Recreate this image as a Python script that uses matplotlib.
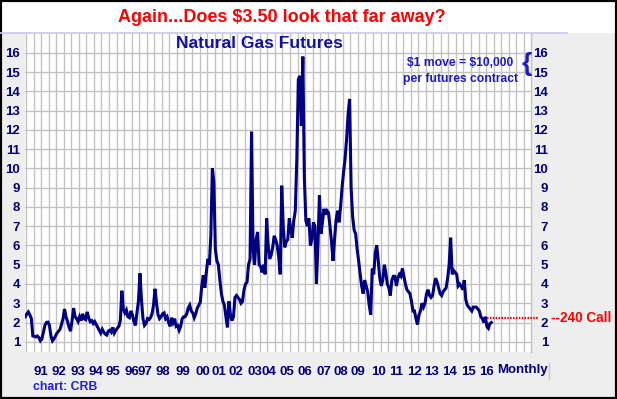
import numpy as np
import matplotlib
matplotlib.use('Agg')
import matplotlib.pyplot as plt
from matplotlib.patches import Rectangle
from matplotlib.lines import Line2D

# ---------------- data (monthly, Aug 1990 - May 2016) ----------------
start_year = 1990
start_month = 8  # August
p1990 = [2.30, 2.45, 2.55, 2.40, 2.20]
p1991 = [1.30, 1.28, 1.25, 1.30, 1.22, 1.05, 1.15, 1.50, 1.85, 2.00, 2.02, 1.85]
p1992 = [1.30, 1.05, 1.15, 1.30, 1.45, 1.55, 1.65, 1.90, 2.20, 2.70, 2.30, 2.05]
p1993 = [1.75, 1.55, 2.10, 2.75, 2.30, 2.20, 2.05, 2.30, 2.10, 2.45, 2.20, 2.15]
p1994 = [2.55, 2.25, 2.05, 2.10, 1.95, 2.05, 1.90, 1.75, 1.60, 1.45, 1.65, 1.50]
p1995 = [1.40, 1.35, 1.55, 1.60, 1.50, 1.75, 1.45, 1.60, 1.70, 1.80, 2.10, 3.65]
p1996 = [2.70, 2.50, 2.65, 2.30, 2.25, 2.60, 2.40, 2.05, 1.85, 2.50, 3.10, 4.55]
p1997 = [3.20, 2.20, 1.85, 1.95, 2.20, 2.15, 2.25, 2.45, 2.90, 3.75, 3.00, 2.40]
p1998 = [2.20, 2.30, 2.45, 2.50, 2.20, 2.30, 2.00, 1.80, 2.25, 2.00, 2.20, 1.80]
p1999 = [1.85, 1.60, 1.80, 2.20, 2.30, 2.30, 2.45, 2.75, 2.90, 2.60, 2.50, 2.25]
p2000 = [2.45, 2.75, 2.90, 3.05, 3.90, 4.45, 3.80, 4.60, 5.30, 5.00, 6.50, 10.00]
p2001 = [9.30, 5.80, 5.20, 5.00, 4.20, 3.50, 3.10, 2.90, 2.30, 1.75, 3.10, 2.40]
p2002 = [2.10, 2.30, 3.30, 3.40, 3.30, 3.20, 3.00, 3.10, 3.70, 4.00, 4.10, 5.00]
p2003 = [5.30, 11.90, 5.80, 5.00, 6.30, 6.70, 5.00, 4.90, 4.60, 5.00, 4.50, 7.40]
p2004 = [6.00, 5.30, 5.50, 5.90, 6.50, 6.30, 6.00, 5.40, 4.50, 9.10, 7.00, 5.90]
p2005 = [6.20, 6.30, 7.40, 6.80, 6.40, 7.30, 7.80, 10.50, 14.60, 14.80, 12.20, 15.80]
p2006 = [9.50, 7.30, 7.00, 7.40, 6.00, 6.30, 7.20, 7.00, 4.00, 6.00, 8.60, 6.60]
p2007 = [7.20, 7.90, 7.60, 7.80, 7.70, 7.00, 6.20, 5.20, 6.30, 7.30, 7.80, 7.20]
p2008 = [8.00, 9.00, 9.80, 10.50, 11.50, 12.80, 13.60, 9.00, 7.50, 6.80, 6.60, 5.80]
p2009 = [5.20, 4.50, 3.90, 3.50, 4.20, 3.90, 3.60, 2.90, 2.40, 4.80, 4.50, 5.60]
p2010 = [6.00, 5.20, 4.30, 3.90, 4.20, 5.00, 4.60, 4.00, 3.80, 3.40, 4.20, 4.40]
p2011 = [4.40, 3.90, 4.30, 4.50, 4.40, 4.80, 4.40, 4.00, 3.70, 3.60, 3.50, 3.10]
p2012 = [2.60, 2.60, 2.20, 1.90, 2.40, 2.60, 3.00, 2.80, 3.00, 3.50, 3.70, 3.40]
p2013 = [3.30, 3.40, 3.90, 4.30, 4.10, 3.80, 3.50, 3.40, 3.60, 3.70, 3.80, 4.30]
p2014 = [5.00, 6.40, 4.50, 4.70, 4.60, 4.50, 3.90, 4.00, 3.90, 3.70, 4.20, 3.20]
p2015 = [2.90, 2.80, 2.70, 2.60, 2.80, 2.80, 2.80, 2.70, 2.60, 2.30, 2.20, 2.00]
p2016 = [2.30, 1.80, 1.70, 1.95, 2.00]

call_level = 2.25
call_label = "--240 Call"

year_labels = ["91", "92", "93", "94", "95", "96", "97", "98", "99", "00", "01", "02", "03",
               "04", "05", "06", "07", "08", "09", "10", "11", "12", "13", "14", "15", "16"]
y_ticks = list(range(1, 17))

prices = (p1990 + p1991 + p1992 + p1993 + p1994 + p1995 + p1996 + p1997 + p1998 + p1999 +
          p2000 + p2001 + p2002 + p2003 + p2004 + p2005 + p2006 + p2007 + p2008 + p2009 +
          p2010 + p2011 + p2012 + p2013 + p2014 + p2015 + p2016)
months = np.arange(len(prices))
dates = start_year + (start_month - 1 + months + 0.5) / 12.0

# ---------------- layout ----------------
W, H = 617, 399
plt.rcParams['font.family'] = ['Liberation Sans', 'DejaVu Sans']
fig = plt.figure(figsize=(W / 100, H / 100), dpi=100, facecolor='#eeeeee')

def fx(px):
    return px / W

def fy(py):
    return 1 - py / H

fig.patches.append(Rectangle((0, fy(32.7)), 1, 1 - fy(32.7), transform=fig.transFigure,
                             facecolor='white', edgecolor='none', zorder=0))

PX_PER_YEAR = 18.1
X0_PX = 14.0  # pixel of 1990.0
def px2yr(px):
    return 1990 + (px - X0_PX) / PX_PER_YEAR

ax = fig.add_axes([fx(25), fy(352), fx(531) - fx(25), fy(32.7) - fy(352)])
ax.set_facecolor('white')
xmin, xmax = px2yr(25), px2yr(531)
ax.set_xlim(xmin, xmax)
ax.set_ylim(0.47, 17.04)

# grid: verticals every 5 months, horizontals at integers
grid_x = np.arange(1990 + 8 / 12.0, xmax, 5 / 12.0)
ax.set_xticks(grid_x, minor=True)
ax.grid(which='minor', axis='x', color='#c3c3c3', lw=1.0)
ax.set_yticks(y_ticks)
ax.grid(which='major', axis='y', color='#c3c3c3', lw=1.0)
ax.set_axisbelow(True)

for s in ['top', 'left', 'bottom']:
    ax.spines[s].set_visible(False)
ax.spines['right'].set_color('#c3c3c3')
ax.spines['right'].set_linewidth(1.0)

navy = '#00007f'
label_px = [41, 59, 78, 96, 113, 131.5, 145, 163, 182.5, 203, 218.5, 236, 255, 268.5,
            287, 304.5, 323.7, 341, 358, 378.5, 396, 414, 431.7, 450, 468, 486]
ax.set_xticks([px2yr(p) for p in label_px], year_labels)
ax.tick_params(axis='x', which='both', length=0, pad=10, labelsize=9.5,
               labelcolor=navy)
for t in ax.get_xticklabels():
    t.set_fontweight('bold')

ax.tick_params(axis='y', length=0, pad=3.5, labelsize=9.5, labelcolor=navy)
for t in ax.get_yticklabels():
    t.set_fontweight('bold')

ax2 = ax.twinx()
ax2.set_ylim(ax.get_ylim())
ax2.set_yticks(y_ticks)
ax2.tick_params(axis='y', length=0, pad=12.5, labelsize=9.5, labelcolor=navy)
for t in ax2.get_yticklabels():
    t.set_fontweight('bold')
    t.set_horizontalalignment('right')
for s in ax2.spines.values():
    s.set_visible(False)

# data line
ax.plot(dates, prices, color='#000080', lw=2.2, solid_joinstyle='miter', zorder=3)

# call line
ax.plot([dates[-1] - 0.25, xmax + 7 / PX_PER_YEAR], [call_level, call_level],
        color='#ff0000', lw=1.6, dashes=(0.7, 0.6), clip_on=False, zorder=4)

# texts
fig.text(fx(282), fy(17), "Again...Does $3.50 look that far away?", color='#ff0000',
         fontsize=13, fontweight='bold', ha='center', va='center')
fig.text(fx(259), fy(43), "Natural Gas Futures", color='#1010a8', fontsize=12.5,
         fontweight='bold', ha='center', va='center')
fig.text(fx(460.6), fy(63.3), r"\$1 move = \$10,000", color='#1a1ac8', fontsize=8.7,
         fontweight='bold', ha='center', va='center')
fig.text(fx(460.6), fy(79.3), "per futures contract", color='#1a1ac8', fontsize=8.7,
         fontweight='bold', ha='center', va='center')
fig.text(fx(526.5), fy(63.5), "{", color='#1a1ac8', fontsize=19, fontweight='bold',
         ha='center', va='center')
fig.text(fx(551), fy(317.5), call_label, color='#ff0000', fontsize=9.8,
         fontweight='bold', ha='left', va='center')
fig.text(fx(523), fy(370), "Monthly", color=navy, fontsize=9.5, fontweight='bold',
         ha='center', va='center')
fig.add_artist(Line2D([fx(549), fx(549)], [fy(363), fy(379)], transform=fig.transFigure,
                      color='#c8c8c8', lw=1.0))
fig.text(fx(33), fy(387), "chart: CRB", color='#2020e0', fontsize=8.8,
         fontweight='bold', ha='left', va='center')

# lavender line and border
fig.add_artist(Line2D([0, fx(567)], [fy(32.7), fy(32.7)], transform=fig.transFigure,
                      color='#c8c8ec', lw=1.2))
fig.add_artist(Rectangle((0, 0), 1, 1, transform=fig.transFigure, fill=False,
                         edgecolor='black', lw=3))

fig.savefig('out.png', dpi=100, facecolor=fig.get_facecolor())
